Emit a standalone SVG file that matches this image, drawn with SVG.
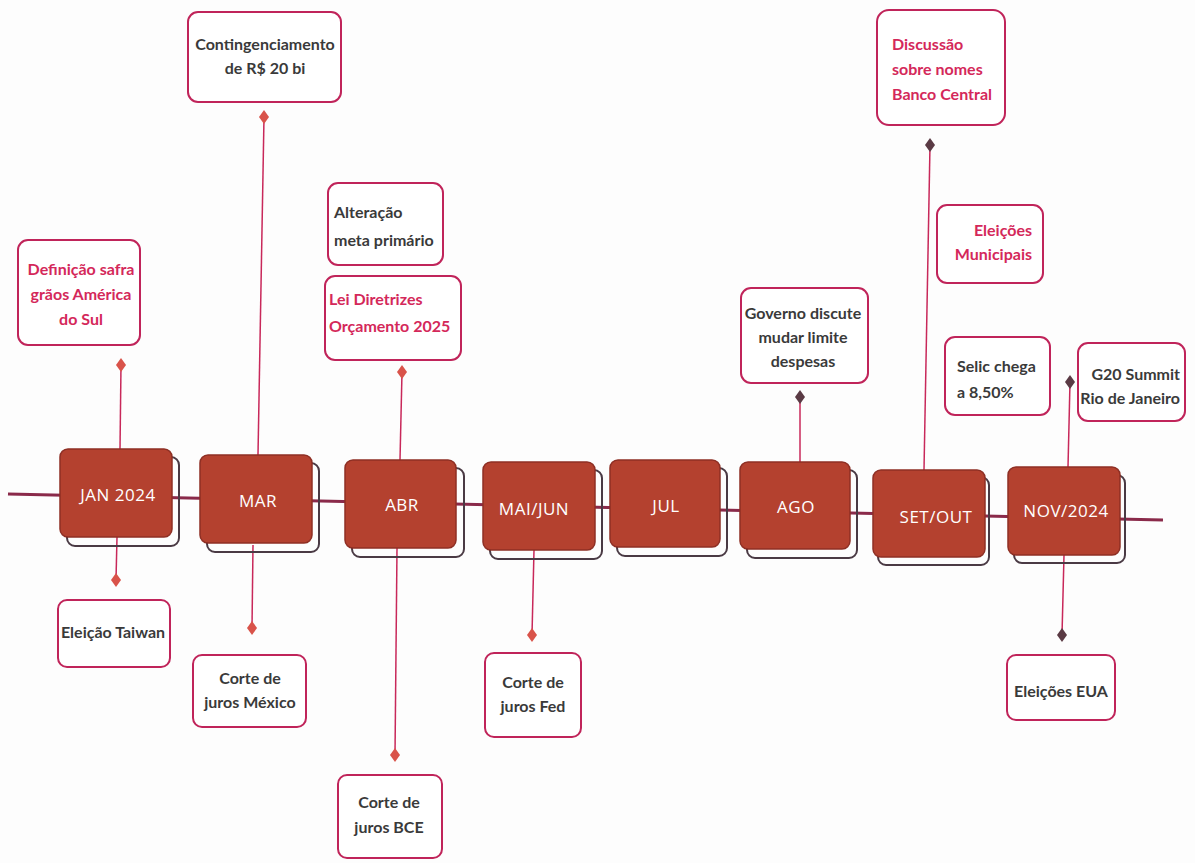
<svg xmlns="http://www.w3.org/2000/svg" width="1195" height="863" viewBox="0 0 1195 863">
<style>
.month rect.f{fill:#b4412f;stroke:#8e2f24;stroke-width:1.5}
.month rect.s{fill:none;stroke:#4a3a44;stroke-width:2}
.month text{font-family:"Open Sans","Liberation Sans",sans-serif;font-size:17px;fill:#fff;text-anchor:middle;letter-spacing:0.5px}
.ev rect{fill:#fff;stroke:#c0245a;stroke-width:2}
.ev text{font-family:Lato,"Liberation Sans",sans-serif;font-weight:bold;font-size:16px;fill:#3a3a3a}
.ev text.r{fill:#d4285a}
.c line{stroke:#c8285a;stroke-width:1.5}
.c line.tl{stroke:#8a2a4a;stroke-width:3}
.dr{fill:#d9534a}
.dd{fill:#5a3a44}
</style>
<rect width="1195" height="863" fill="#fdfdfd"/>
<g id="connectors" class="c">
<line class="tl" x1="8" y1="494" x2="1163" y2="520"/>
<line x1="120" y1="449" x2="121" y2="365"/>
<line x1="117" y1="537" x2="116" y2="580"/>
<line x1="258" y1="455" x2="264" y2="117"/>
<line x1="253" y1="545" x2="252" y2="628"/>
<line x1="400" y1="460" x2="402" y2="372"/>
<line x1="397" y1="548" x2="395" y2="755"/>
<line x1="534" y1="550" x2="532" y2="635"/>
<line x1="800" y1="462" x2="800" y2="397"/>
<line x1="924" y1="470" x2="930" y2="145"/>
<line x1="1068" y1="467" x2="1070" y2="382"/>
<line x1="1064" y1="555" x2="1062" y2="635"/>
<path class="dr" d="M121 358 l5 7 l-5 7 l-5 -7z"/>
<path class="dr" d="M116 573 l5 7 l-5 7 l-5 -7z"/>
<path class="dr" d="M264 110 l5 7 l-5 7 l-5 -7z"/>
<path class="dr" d="M252 621 l5 7 l-5 7 l-5 -7z"/>
<path class="dr" d="M402 365 l5 7 l-5 7 l-5 -7z"/>
<path class="dr" d="M395 748 l5 7 l-5 7 l-5 -7z"/>
<path class="dr" d="M532 628 l5 7 l-5 7 l-5 -7z"/>
<path class="dd" d="M800 390 l5 7 l-5 7 l-5 -7z"/>
<path class="dd" d="M930 138 l5 7 l-5 7 l-5 -7z"/>
<path class="dd" d="M1070 375 l5 7 l-5 7 l-5 -7z"/>
<path class="dd" d="M1062 628 l5 7 l-5 7 l-5 -7z"/>
</g>
<g id="m-jan" class="month"><rect class="s" x="67" y="457" width="112" height="89" rx="8"/><rect class="f" x="60" y="449" width="112" height="88" rx="8"/><text x="118" y="501">JAN  2024</text></g>
<g id="m-mar" class="month"><rect class="s" x="207" y="463" width="112" height="89" rx="8"/><rect class="f" x="200" y="455" width="112" height="88" rx="8"/><text x="258" y="507">MAR</text></g>
<g id="m-abr" class="month"><rect class="s" x="352" y="468" width="112" height="89" rx="8"/><rect class="f" x="345" y="460" width="111" height="88" rx="8"/><text x="402" y="511">ABR</text></g>
<g id="m-maijun" class="month"><rect class="s" x="490" y="470" width="112" height="89" rx="8"/><rect class="f" x="483" y="462" width="112" height="88" rx="8"/><text x="534" y="515">MAI/JUN</text></g>
<g id="m-jul" class="month"><rect class="s" x="617" y="468" width="110" height="88" rx="8"/><rect class="f" x="610" y="460" width="110" height="87" rx="8"/><text x="666" y="512">JUL</text></g>
<g id="m-ago" class="month"><rect class="s" x="747" y="470" width="110" height="88" rx="8"/><rect class="f" x="740" y="462" width="110" height="87" rx="8"/><text x="796" y="513">AGO</text></g>
<g id="m-setout" class="month"><rect class="s" x="878" y="477" width="111" height="88" rx="8"/><rect class="f" x="873" y="470" width="112" height="87" rx="8"/><text x="936" y="523">SET/OUT</text></g>
<g id="m-nov" class="month"><rect class="s" x="1014" y="475" width="111" height="88" rx="8"/><rect class="f" x="1008" y="467" width="112" height="88" rx="8"/><text x="1066" y="517">NOV/2024</text></g>
<g id="e-safra" class="ev"><rect x="18" y="240" width="122" height="105" rx="10"/><text class="r" text-anchor="middle"><tspan x="81" y="275">Definição safra</tspan><tspan x="81" y="300">grãos América</tspan><tspan x="81" y="325">do Sul</tspan></text></g>
<g id="e-conting" class="ev"><rect x="188" y="12" width="153" height="90" rx="10"/><text text-anchor="middle"><tspan x="265" y="50">Contingenciamento</tspan><tspan x="265" y="74">de R$ 20 bi</tspan></text></g>
<g id="e-alter" class="ev"><rect x="328" y="183" width="115" height="82" rx="10"/><text><tspan x="334" y="218">Alteração</tspan><tspan x="334" y="246">meta primário</tspan></text></g>
<g id="e-lei" class="ev"><rect x="325" y="276" width="136" height="84" rx="10"/><text class="r"><tspan x="329" y="305">Lei Diretrizes</tspan><tspan x="329" y="332">Orçamento 2025</tspan></text></g>
<g id="e-gov" class="ev"><rect x="741" y="288" width="127" height="95" rx="10"/><text text-anchor="middle"><tspan x="803" y="319">Governo discute</tspan><tspan x="803" y="343">mudar limite</tspan><tspan x="803" y="367">despesas</tspan></text></g>
<g id="e-disc" class="ev"><rect x="877" y="10" width="128" height="115" rx="12"/><text class="r"><tspan x="892" y="50">Discussão</tspan><tspan x="892" y="75">sobre nomes</tspan><tspan x="892" y="100">Banco Central</tspan></text></g>
<g id="e-munic" class="ev"><rect x="937" y="205" width="106" height="78" rx="10"/><text class="r" text-anchor="end"><tspan x="1032" y="236">Eleições</tspan><tspan x="1032" y="260">Municipais</tspan></text></g>
<g id="e-selic" class="ev"><rect x="945" y="337" width="105" height="78" rx="10"/><text><tspan x="957" y="372">Selic chega</tspan><tspan x="957" y="398">a 8,50%</tspan></text></g>
<g id="e-g20" class="ev"><rect x="1078" y="343" width="107" height="78" rx="10"/><text text-anchor="end"><tspan x="1180" y="380">G20 Summit</tspan><tspan x="1180" y="404">Rio de Janeiro</tspan></text></g>
<g id="e-taiwan" class="ev"><rect x="58" y="600" width="112" height="67" rx="9"/><text text-anchor="middle" x="113" y="638">Eleição Taiwan</text></g>
<g id="e-mex" class="ev"><rect x="193" y="655" width="113" height="72" rx="9"/><text text-anchor="middle"><tspan x="250" y="684">Corte de</tspan><tspan x="250" y="708">juros México</tspan></text></g>
<g id="e-bce" class="ev"><rect x="338" y="775" width="104" height="83" rx="9"/><text text-anchor="middle"><tspan x="389" y="808">Corte de</tspan><tspan x="389" y="833">juros BCE</tspan></text></g>
<g id="e-fed" class="ev"><rect x="485" y="653" width="96" height="84" rx="9"/><text text-anchor="middle"><tspan x="533" y="688">Corte de</tspan><tspan x="533" y="712">juros Fed</tspan></text></g>
<g id="e-eua" class="ev"><rect x="1007" y="655" width="108" height="65" rx="9"/><text text-anchor="middle" x="1061" y="697">Eleições EUA</text></g>
</svg>
